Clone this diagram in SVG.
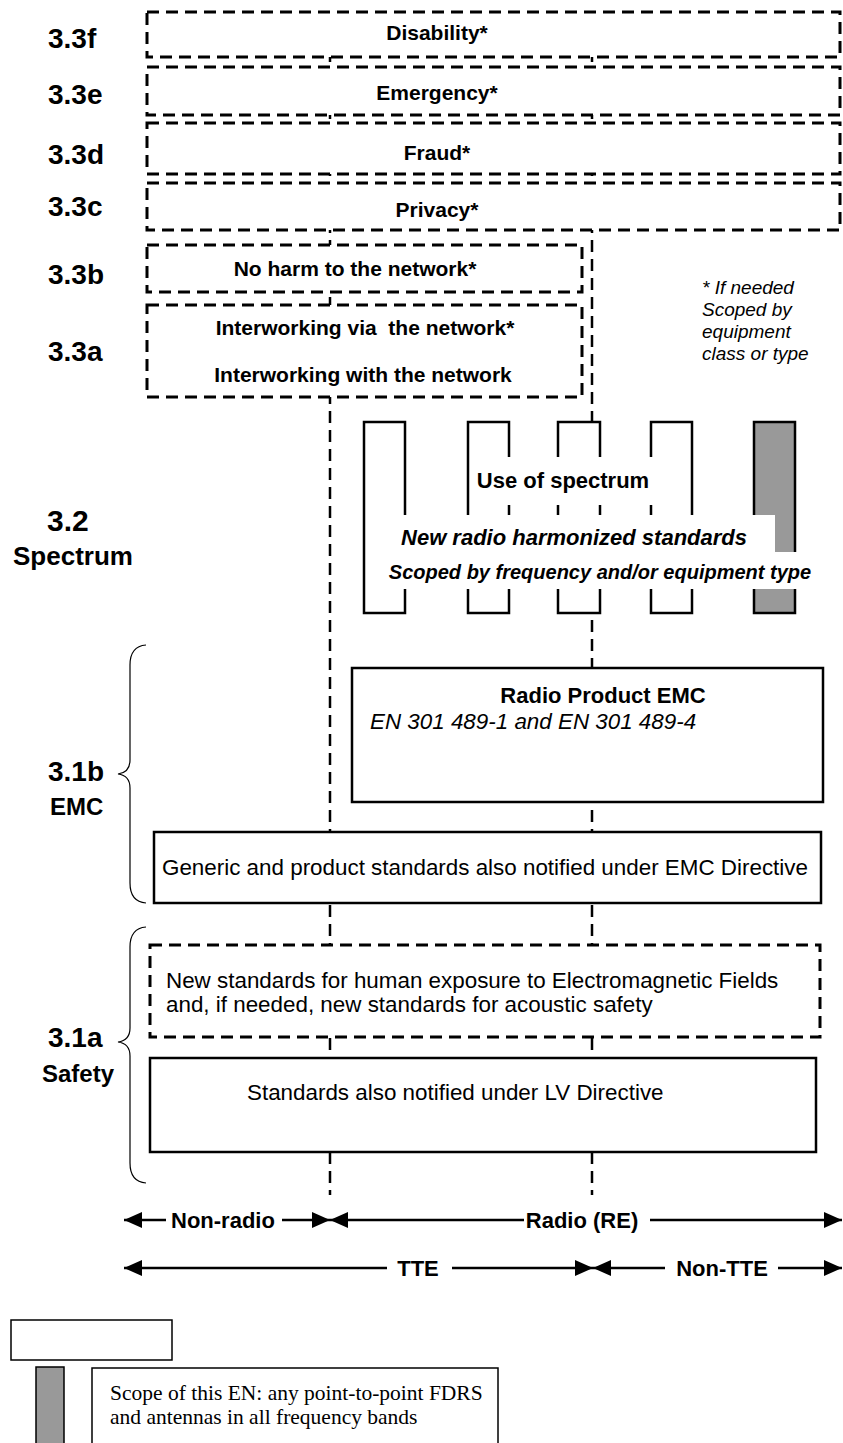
<svg xmlns="http://www.w3.org/2000/svg" width="843" height="1443" viewBox="0 0 843 1443">
<style>
.lbl{font-family:"Liberation Sans",Arial,sans-serif;font-weight:bold;fill:#000}
.b{font-family:"Liberation Sans",Arial,sans-serif;font-weight:bold;font-size:21px;fill:#000}
.r{font-family:"Liberation Sans",Arial,sans-serif;font-size:22.4px;fill:#000}
.it{font-family:"Liberation Sans",Arial,sans-serif;font-style:italic;font-size:19px;fill:#000}
.dbox{fill:#fff;stroke:#000;stroke-width:3;stroke-dasharray:12 7}
.sbox{fill:#fff;stroke:#000;stroke-width:2.5}
.col{fill:#fff;stroke:#000;stroke-width:2.5}
.gray{fill:#999;stroke:#000;stroke-width:2.5}
.mask{fill:#fff;stroke:none}
.vdash{stroke:#000;stroke-width:2.5;stroke-dasharray:12 7;fill:none}
.arr{stroke:#000;stroke-width:2.5;fill:none}
.brace{stroke:#000;stroke-width:1.2;fill:none}
.leg{fill:#fff;stroke:#000;stroke-width:1.5}
.leggray{fill:#999;stroke:#000;stroke-width:1.5}
.serif{font-family:"Liberation Serif","Times New Roman",serif;font-size:21.5px;fill:#000}
</style>
<defs>
<marker id="ah" markerUnits="userSpaceOnUse" markerWidth="20" markerHeight="18" refX="18" refY="8" orient="auto-start-reverse">
<path d="M0,0 L18,8 L0,16 Z" fill="#000"/>
</marker>
</defs>
<rect width="843" height="1443" fill="#fff"/>

<g id="connectors">
<line class="vdash" x1="330" y1="12" x2="330" y2="1195"/>
<line class="vdash" x1="592" y1="12" x2="592" y2="1195"/>
<line class="arr" x1="124" y1="1220" x2="166" y2="1220" marker-start="url(#ah)"/>
<line class="arr" x1="282" y1="1220" x2="330" y2="1220" marker-end="url(#ah)"/>
<line class="arr" x1="330" y1="1220" x2="524" y2="1220" marker-start="url(#ah)"/>
<line class="arr" x1="650" y1="1220" x2="842" y2="1220" marker-end="url(#ah)"/>
<line class="arr" x1="124" y1="1268" x2="387" y2="1268" marker-start="url(#ah)"/>
<line class="arr" x1="452" y1="1268" x2="593" y2="1268" marker-end="url(#ah)"/>
<line class="arr" x1="593" y1="1268" x2="665" y2="1268" marker-start="url(#ah)"/>
<line class="arr" x1="778" y1="1268" x2="842" y2="1268" marker-end="url(#ah)"/>
</g>

<g id="labels">
<text class="lbl" font-size="28" x="48" y="48">3.3f</text>
<text class="lbl" font-size="28" x="48" y="104">3.3e</text>
<text class="lbl" font-size="28" x="48" y="164">3.3d</text>
<text class="lbl" font-size="28" x="48" y="216">3.3c</text>
<text class="lbl" font-size="28" x="48" y="284">3.3b</text>
<text class="lbl" font-size="28" x="48" y="361">3.3a</text>
<text class="lbl" font-size="30" x="47" y="531">3.2</text>
<text class="lbl" font-size="26" x="13" y="565">Spectrum</text>
<text class="lbl" font-size="28" x="48" y="781">3.1b</text>
<text class="lbl" font-size="24" x="50" y="815">EMC</text>
<text class="lbl" font-size="28" x="48" y="1047">3.1a</text>
<text class="lbl" font-size="24" x="42" y="1082">Safety</text>
<path class="brace" d="M146,645 C134,646 130,654 130,665 L130,760 C130,768 126,773 118,774 C126,775 130,780 130,788 L130,883 C130,894 134,902 146,903"/>
<path class="brace" d="M146,927 C134,928 130,936 130,947 L130,1028 C130,1036 126,1041 118,1042 C126,1043 130,1048 130,1056 L130,1163 C130,1174 134,1182 146,1183"/>
</g>

<g id="disability">
<rect class="dbox" x="147" y="12" width="693" height="45"/>
<text class="b" x="437" y="40" text-anchor="middle">Disability*</text>
</g>
<g id="emergency">
<rect class="dbox" x="147" y="67" width="693" height="48"/>
<text class="b" x="437" y="100" text-anchor="middle">Emergency*</text>
</g>
<g id="fraud">
<rect class="dbox" x="147" y="123" width="693" height="51"/>
<text class="b" x="437" y="160" text-anchor="middle">Fraud*</text>
</g>
<g id="privacy">
<rect class="dbox" x="147" y="183" width="693" height="47"/>
<text class="b" x="437" y="217" text-anchor="middle">Privacy*</text>
</g>
<g id="noharm">
<rect class="dbox" x="147" y="245" width="435" height="47"/>
<text class="b" x="355" y="276" text-anchor="middle">No harm to the network*</text>
</g>
<g id="interworking">
<rect class="dbox" x="147" y="305" width="435" height="92"/>
<text class="b" x="365" y="335" text-anchor="middle" xml:space="preserve">Interworking via  the network*</text>
<text class="b" x="363" y="382" text-anchor="middle">Interworking with the network</text>
</g>
<g id="note">
<text class="it" x="702" y="294">* If needed</text>
<text class="it" x="702" y="316">Scoped by</text>
<text class="it" x="702" y="338">equipment</text>
<text class="it" x="702" y="360">class or type</text>
</g>

<g id="spectrum">
<rect class="col" x="364" y="422" width="41" height="191"/>
<rect class="col" x="468" y="422" width="41" height="191"/>
<rect class="col" x="558" y="422" width="42" height="191"/>
<rect class="col" x="651" y="422" width="41" height="191"/>
<rect class="gray" x="754" y="422" width="41" height="191"/>
<rect class="mask" x="470" y="457" width="219" height="48"/>
<rect class="mask" x="384" y="515" width="391" height="37"/>
<rect class="mask" x="384" y="552" width="428" height="37"/>
<text class="lbl" font-size="22" x="563" y="488" text-anchor="middle">Use of spectrum</text>
<text class="lbl" font-size="22" font-style="italic" x="574" y="545" text-anchor="middle">New radio harmonized standards</text>
<text class="lbl" font-size="20" font-style="italic" x="600" y="579" text-anchor="middle">Scoped by frequency and/or equipment type</text>
</g>

<g id="radioemc">
<rect class="sbox" x="352" y="668" width="471" height="134"/>
<text class="lbl" font-size="22" x="603" y="703" text-anchor="middle">Radio Product EMC</text>
<text class="r" font-size="23" font-style="italic" x="370" y="729">EN 301 489-1 and EN 301 489-4</text>
</g>

<g id="generic">
<rect class="sbox" x="154" y="832" width="667" height="71"/>
<text class="r" x="162" y="875">Generic and product standards also notified under EMC Directive</text>
</g>

<g id="exposure">
<rect class="dbox" x="150" y="945" width="670" height="92"/>
<text class="r" font-size="22" x="166" y="988">New standards for human exposure to Electromagnetic Fields</text>
<text class="r" font-size="22" x="166" y="1012">and, if needed, new standards for acoustic safety</text>
</g>

<g id="lv">
<rect class="sbox" x="150" y="1058" width="666" height="94"/>
<text class="r" x="247" y="1100">Standards also notified under LV Directive</text>
</g>

<g id="axis-labels">
<text class="lbl" font-size="22" x="171" y="1228">Non-radio</text>
<text class="lbl" font-size="22" x="582" y="1228" text-anchor="middle">Radio (RE)</text>
<text class="lbl" font-size="22" x="418" y="1276" text-anchor="middle">TTE</text>
<text class="lbl" font-size="22" x="722" y="1276" text-anchor="middle">Non-TTE</text>
</g>

<g id="legend">
<rect class="leg" x="11" y="1320" width="161" height="40"/>
<rect class="leggray" x="36" y="1367" width="28" height="80"/>
<rect class="leg" x="92" y="1368" width="406" height="80"/>
<text class="serif" x="110" y="1400">Scope of this EN: any point-to-point FDRS</text>
<text class="serif" x="110" y="1424">and antennas in all frequency bands</text>
</g>
</svg>
